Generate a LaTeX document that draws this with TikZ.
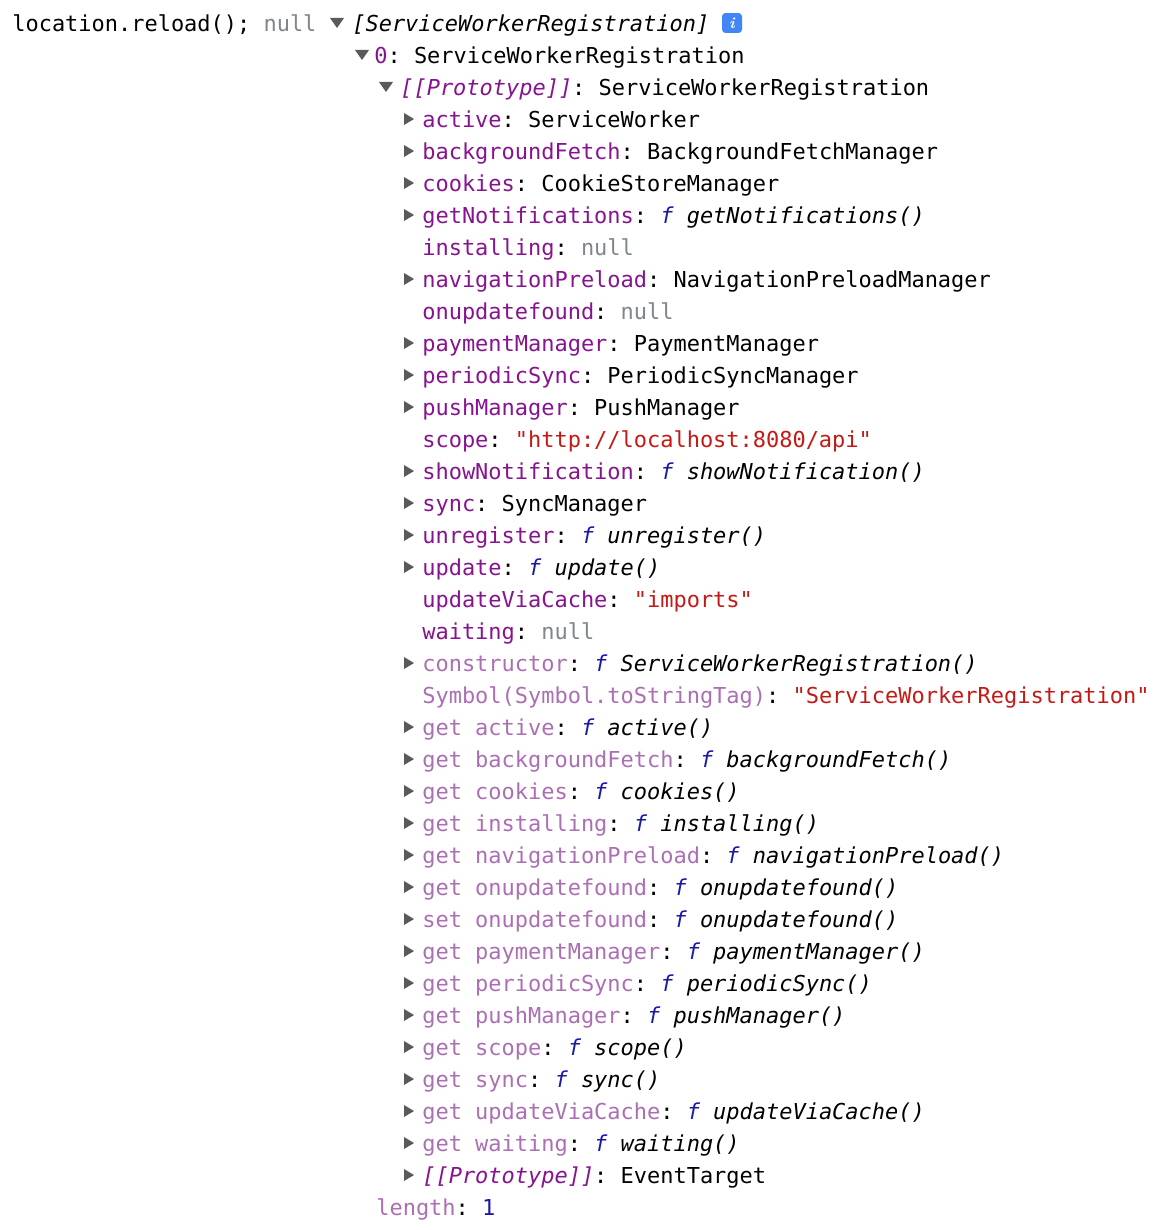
\documentclass[tikz,border=0pt]{standalone}
\usepackage{fontspec}
\setmonofont{DejaVu Sans Mono}
\definecolor{keyc}{RGB}{136,19,145}
\definecolor{dimc}{RGB}{172,110,180}
\definecolor{nullc}{RGB}{128,134,139}
\definecolor{strc}{RGB}{196,26,22}
\definecolor{fnc}{RGB}{26,26,166}
\definecolor{tric}{RGB}{90,90,90}
\definecolor{badge}{RGB}{66,133,244}
\newcommand\K[1]{\textcolor{keyc}{#1}}
\newcommand\D[1]{\textcolor{dimc}{#1}}
\newcommand\N{\textcolor{nullc}{null}}
\newcommand\Str[1]{\textcolor{strc}{"#1"}}
\newcommand\F[1]{\textcolor{fnc}{\itshape f}\ {\itshape #1()}}
\tikzset{
  txt/.style={anchor=west, inner sep=0pt, font=\ttfamily\fontsize{12.5}{14}\selectfont, text height=9pt, text depth=2.5pt},
  tri/.style={fill=tric, draw=none}
}
% one property line: row, arrow (1/0), content
\newcommand\prop[3]{%
  \node[txt] (p#1) at (422, 26+32*#1) {#3};
  \ifnum#2=1 \fill[tri] (404, 23+32*#1-6) -- (414, 23+32*#1) -- (404, 23+32*#1+6) -- cycle; \fi}
\begin{document}
\begin{tikzpicture}[x=0.02cm, y=-0.02cm]
\useasboundingbox[fill=white] (0,0) rectangle (1166,1230);
\node[txt] (cmd) at (12,26) {location.reload(); \N};
\fill[tri] (330,18) -- (344,18) -- (337,28) -- cycle;
\node[txt] (arr) at (352,26) {\itshape [ServiceWorkerRegistration]};
\node[fill=badge, rounded corners=2pt, inner sep=0pt, minimum size=0.4cm, text=white, font=\bfseries\itshape\small] (info) at (732,23) {i};
\fill[tri] (355,50) -- (369,50) -- (362,60) -- cycle;
\node[txt] (item) at (374,58) {\K{0}: ServiceWorkerRegistration};
\fill[tri] (379,82) -- (393,82) -- (386,92) -- cycle;
\node[txt] (proto) at (400,90) {\K{\itshape [[Prototype]]}: ServiceWorkerRegistration};
\prop{3}{1}{\K{active}: ServiceWorker}
\prop{4}{1}{\K{backgroundFetch}: BackgroundFetchManager}
\prop{5}{1}{\K{cookies}: CookieStoreManager}
\prop{6}{1}{\K{getNotifications}: \F{getNotifications}}
\prop{7}{0}{\K{installing}: \N}
\prop{8}{1}{\K{navigationPreload}: NavigationPreloadManager}
\prop{9}{0}{\K{onupdatefound}: \N}
\prop{10}{1}{\K{paymentManager}: PaymentManager}
\prop{11}{1}{\K{periodicSync}: PeriodicSyncManager}
\prop{12}{1}{\K{pushManager}: PushManager}
\prop{13}{0}{\K{scope}: \Str{http://localhost:8080/api}}
\prop{14}{1}{\K{showNotification}: \F{showNotification}}
\prop{15}{1}{\K{sync}: SyncManager}
\prop{16}{1}{\K{unregister}: \F{unregister}}
\prop{17}{1}{\K{update}: \F{update}}
\prop{18}{0}{\K{updateViaCache}: \Str{imports}}
\prop{19}{0}{\K{waiting}: \N}
\prop{20}{1}{\D{constructor}: \F{ServiceWorkerRegistration}}
\prop{21}{0}{\D{Symbol(Symbol.toStringTag)}: \Str{ServiceWorkerRegistration}}
\prop{22}{1}{\D{get active}: \F{active}}
\prop{23}{1}{\D{get backgroundFetch}: \F{backgroundFetch}}
\prop{24}{1}{\D{get cookies}: \F{cookies}}
\prop{25}{1}{\D{get installing}: \F{installing}}
\prop{26}{1}{\D{get navigationPreload}: \F{navigationPreload}}
\prop{27}{1}{\D{get onupdatefound}: \F{onupdatefound}}
\prop{28}{1}{\D{set onupdatefound}: \F{onupdatefound}}
\prop{29}{1}{\D{get paymentManager}: \F{paymentManager}}
\prop{30}{1}{\D{get periodicSync}: \F{periodicSync}}
\prop{31}{1}{\D{get pushManager}: \F{pushManager}}
\prop{32}{1}{\D{get scope}: \F{scope}}
\prop{33}{1}{\D{get sync}: \F{sync}}
\prop{34}{1}{\D{get updateViaCache}: \F{updateViaCache}}
\prop{35}{1}{\D{get waiting}: \F{waiting}}
\prop{36}{1}{\K{\itshape [[Prototype]]}: EventTarget}
\node[txt] (len) at (376,1210) {\D{length}: \textcolor{fnc}{1}};
\end{tikzpicture}
\end{document}
